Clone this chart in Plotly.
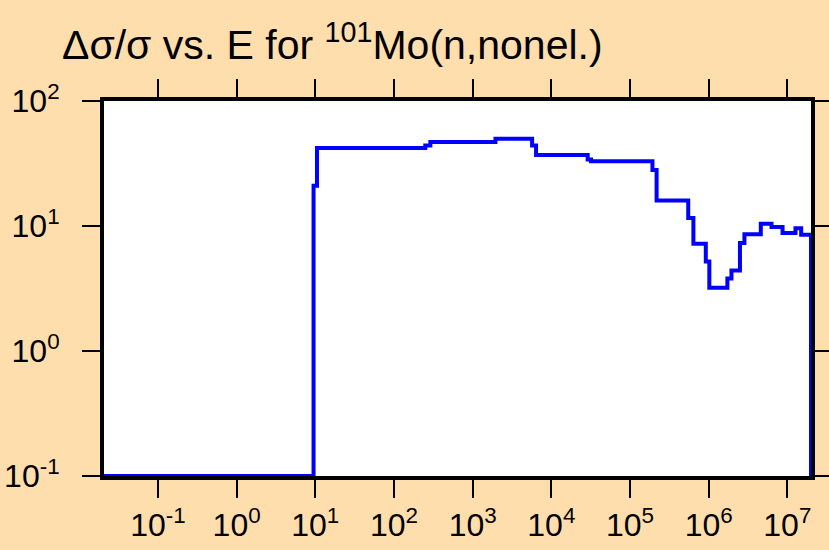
import numpy as np
import plotly.graph_objects as go

# Bin lower edges (eV) and relative uncertainty values (%), step function
energy_eV = [1e-5, 9.5, 10.5, 250, 290, 1950, 5700, 6400, 2.9e4, 3.2e4,
             1.93e5, 2.18e5, 5.5e5, 6.4e5, 9.2e5, 1.02e6, 1.73e6, 1.95e6,
             2.5e6, 2.85e6, 4.6e6, 6.3e6, 8.7e6, 1.27e7, 1.5e7, 2e7]
rel_unc = [0.1, 21, 42, 44, 47, 50, 44, 37, 34, 33,
           28, 16, 11.6, 7.2, 5.2, 3.2, 3.8, 4.4,
           7.3, 8.6, 10.4, 9.8, 8.8, 9.6, 8.5, 0.1]

x_tick_vals = [1e-1, 1e0, 1e1, 1e2, 1e3, 1e4, 1e5, 1e6, 1e7]
x_tick_text = ["10<sup>-1</sup>", "10<sup>0</sup>", "10<sup>1</sup>", "10<sup>2</sup>",
               "10<sup>3</sup>", "10<sup>4</sup>", "10<sup>5</sup>", "10<sup>6</sup>",
               "10<sup>7</sup>"]
y_tick_vals = [1e-1, 1e0, 1e1, 1e2]
y_tick_text = ["10<sup>-1</sup>", "10<sup>0</sup>", "10<sup>1</sup>", "10<sup>2</sup>"]

title_text = "\u0394\u03c3/\u03c3 vs. E for <sup>101</sup>Mo(n,nonel.)"

FONT = "Liberation Sans, Arial, Helvetica, sans-serif"
BG = "#FFDEAD"

fig = go.Figure()
fig.add_trace(go.Scatter(
    x=energy_eV, y=rel_unc, mode="lines",
    line=dict(color="#0000FF", width=4, shape="hv"),
    showlegend=False, hoverinfo="skip",
))

axis_common = dict(
    type="log", showgrid=False, zeroline=False, automargin=False,
    showline=True, linecolor="black", linewidth=4, mirror="allticks",
    ticks="outside", ticklen=18, tickwidth=2, tickcolor="black",
    tickfont=dict(family=FONT, size=32, color="black"),
    layer="below traces",
)

fig.update_xaxes(range=[np.log10(0.0206), np.log10(2e7)],
                 tickvals=x_tick_vals, ticktext=x_tick_text,
                 ticklabelstandoff=0, **axis_common)
fig.update_yaxes(range=[-1, 2], tickvals=y_tick_vals, ticktext=y_tick_text,
                 ticklabelstandoff=16, **axis_common)

fig.update_layout(
    width=829, height=550,
    paper_bgcolor=BG, plot_bgcolor="white",
    margin=dict(l=104, r=18, t=101, b=74, pad=0),
    title=dict(text=title_text, x=62 / 829, xanchor="left", xref="container",
               y=1 - 45 / 550, yanchor="middle", yref="container",
               font=dict(family=FONT, size=41, color="black")),
    font=dict(family=FONT, color="black"),
)

fig.write_html(
    "out.html",
    config={"displayModeBar": False, "staticPlot": True},
    post_script=("document.body.style.margin='0';"
                 "document.body.style.overflow='hidden';"
                 "document.body.style.background='#FFDEAD';"),
)
